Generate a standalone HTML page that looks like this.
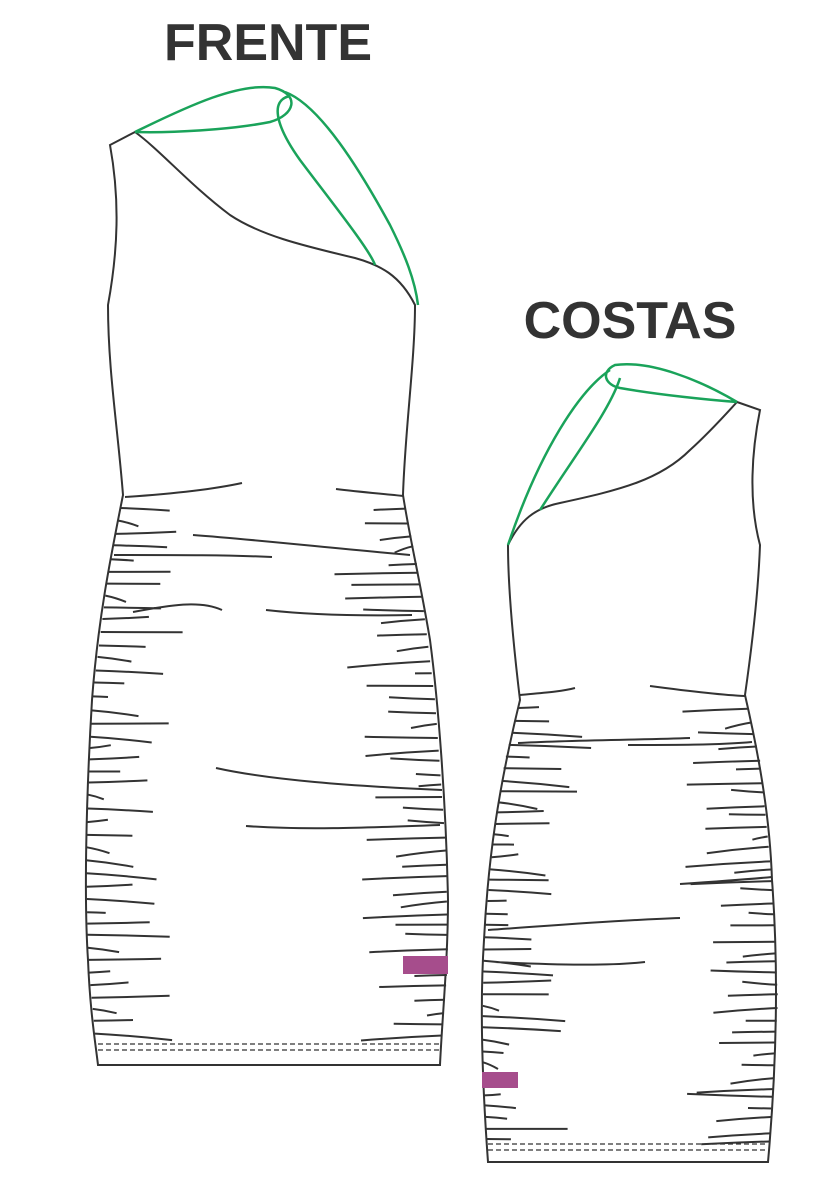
<!DOCTYPE html>
<html><head><meta charset="utf-8"><style>
html,body{margin:0;padding:0;background:#fff;width:828px;height:1182px;overflow:hidden}
svg{display:block}
</style></head><body>
<svg id="s" width="828" height="1182" viewBox="0 0 828 1182" xmlns="http://www.w3.org/2000/svg">
<text x="268" y="60" text-anchor="middle" font-family="Liberation Sans, sans-serif" font-weight="bold" font-size="52" fill="#333">FRENTE</text>
<text x="630" y="338" text-anchor="middle" font-family="Liberation Sans, sans-serif" font-weight="bold" font-size="52" fill="#333">COSTAS</text>
<g fill="none" stroke="#333" stroke-width="2">
<path d="M135,132 L110,145 C120,200 118,250 108,305 C108,370 118,430 123,495 C110,560 98,620 92,700 C86,800 84,900 88,960 C90,1010 95,1040 98,1065 L440,1065 C442,1020 448,960 448,900 C446,800 438,700 430,640 C420,580 410,540 403,495 C405,430 415,360 415,305 C400,275 380,265 355,258 C300,245 260,235 230,215 C190,185 160,150 135,132 Z"/>
<path d="M737,402 L760,410 C752,450 748,500 760,545 C758,600 750,660 745,695 C760,760 770,820 772,880 C778,960 778,1050 768,1162 L488,1162 C482,1080 480,1000 484,940 C488,860 498,790 520,700 C514,650 508,590 508,545 C520,520 535,508 560,503 C620,490 660,480 690,450 C710,432 725,415 737,402 Z"/>
<g stroke-width="1.2" stroke-dasharray="5,3"><path d="M98,1044 L440,1044 M98,1050 L440,1050 M488,1144 L768,1144 M488,1150 L768,1150"/></g>
<g id="g"></g>
</g>
<g fill="none" stroke="#1aa35a" stroke-width="2.5">
<path d="M135,132 C190,105 240,82 275,88 C300,95 295,115 270,122 C230,130 170,133 135,132"/>
<path d="M290,96 C270,100 275,125 300,160 C330,200 370,250 375,265"/>
<path d="M285,92 C320,105 360,170 390,225 C405,255 415,280 418,305"/>
<path d="M737,402 C700,380 650,360 615,365 C600,372 605,385 620,388 C660,395 710,400 737,402"/>
<path d="M610,370 C580,390 540,450 508,545"/>
<path d="M620,378 C610,410 575,455 540,510"/>
</g>
<rect x="403" y="956" width="45" height="18" fill="#a64d8c"/>
<rect x="482" y="1072" width="36" height="16" fill="#a64d8c"/>
</svg>
<script>
(function(){
var g=document.getElementById('g');
var seed=7;function r(){seed=(seed*9301+49297)%233280;return seed/233280;}
function interp(pts,y){for(var i=0;i<pts.length-1;i++){if(y>=pts[i][1]&&y<=pts[i+1][1]){var t=(y-pts[i][1])/(pts[i+1][1]-pts[i][1]);return pts[i][0]+t*(pts[i+1][0]-pts[i][0]);}}return pts[pts.length-1][0];}
var d='';
function gather(L,R,y0,y1,step){
 for(var y=y0;y<y1;y+=step+r()*3){
  var xl=interp(L,y),len=15+r()*70,dy=(r()-0.3)*10;
  d+='M'+xl.toFixed(1)+','+y.toFixed(1)+' q'+(len/2).toFixed(1)+','+(dy/3).toFixed(1)+' '+len.toFixed(1)+','+dy.toFixed(1)+' ';
  var yr=y+r()*5,xr=interp(R,yr);len=15+r()*70;dy=(r()-0.3)*10;
  d+='M'+xr.toFixed(1)+','+yr.toFixed(1)+' q'+(-len/2).toFixed(1)+','+(dy/3).toFixed(1)+' '+(-len).toFixed(1)+','+dy.toFixed(1)+' ';
 }
}
gather([[123,495],[110,560],[92,700],[86,850],[88,960],[98,1065]],[[403,495],[420,580],[435,700],[446,850],[448,960],[440,1065]],508,1040,11);
gather([[520,700],[505,760],[495,820],[484,940],[482,1050],[488,1162]],[[745,695],[760,760],[772,880],[778,1000],[768,1162]],708,1140,10);
d+='M125,497 C170,494 210,490 242,483 M336,489 C360,492 385,494 403,496 ';
d+='M193,535 C260,540 330,548 410,555 M114,555 C180,555 230,555 272,557 ';
d+='M133,612 C170,605 200,600 222,610 M266,610 C310,615 360,616 412,615 ';
d+='M216,768 C270,780 350,786 442,790 M246,826 C300,830 360,828 440,825 ';
d+='M520,695 C540,693 560,692 575,688 M650,686 C680,690 720,695 745,696 ';
d+='M518,743 C570,740 640,740 690,738 M628,745 C670,745 720,745 752,742 ';
d+='M495,962 C560,965 610,966 645,962 M488,930 C560,925 620,920 680,918 ';
d+='M680,884 C710,882 740,880 772,877 ';
var p=document.createElementNS('http://www.w3.org/2000/svg','path');p.setAttribute('d',d);g.appendChild(p);
})();
</script>
</body></html>
